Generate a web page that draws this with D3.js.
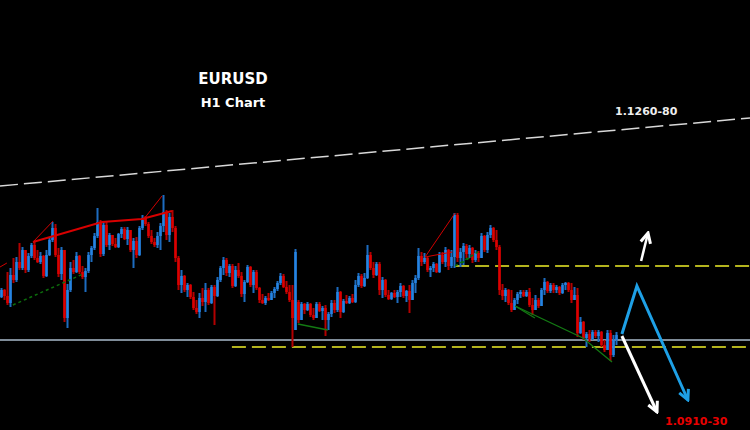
<!DOCTYPE html>
<html>
<head>
<meta charset="utf-8">
<script src="https://cdnjs.cloudflare.com/ajax/libs/d3/7.8.5/d3.min.js"></script>
<style>
  body { margin: 0; background: #000; }
</style>
</head>
<body>
<div id="chart"></div>
<script>
"use strict";

// EURUSD H1 bars, oldest first
const opens = [
  1.1013,1.1020,1.1014,1.1007,1.1035,1.1030,1.1048,1.1042,1.1060,1.1040,
  1.1054,1.1065,1.1052,1.1048,1.1054,1.1034,1.1055,1.1070,1.1082,1.1055,
  1.1036,1.1060,1.0992,1.1020,1.1042,1.1038,1.1054,1.1038,1.1033,1.1039,
  1.1055,1.1062,1.1074,1.1088,1.1056,1.1085,1.1065,1.1075,1.1066,1.1063,
  1.1076,1.1081,1.1071,1.1080,1.1060,1.1069,1.1055,1.1082,1.1092,1.1086,
  1.1074,1.1068,1.1065,1.1074,1.1084,1.1098,1.1075,1.1093,1.1082,1.1052,
  1.1025,1.1034,1.1020,1.1025,1.1013,1.1002,1.0998,1.1012,1.1008,1.1020,
  1.1007,1.1023,1.1014,1.1030,1.1042,1.1050,1.1037,1.1044,1.1024,1.1040,
  1.1034,1.1016,1.1028,1.1043,1.1025,1.1038,1.1022,1.1010,1.1007,1.1012,
  1.1010,1.1017,1.1021,1.1027,1.1034,1.1023,1.1018,1.1010,1.0980,1.1008,
  1.0990,1.1006,1.1000,1.1006,1.0995,1.0992,1.1006,1.0999,1.1002,1.0990,
  1.0996,1.1007,1.1000,1.1018,1.0998,1.1009,1.1007,1.1012,1.1008,1.1025,
  1.1034,1.1024,1.1032,1.1055,1.1042,1.1035,1.1046,1.1020,1.1030,1.1015,
  1.1011,1.1017,1.1013,1.1018,1.1024,1.1014,1.1019,1.1010,1.1027,1.1032,
  1.1054,1.1048,1.1052,1.1040,1.1042,1.1046,1.1038,1.1055,1.1048,1.1060,
  1.1044,1.1053,1.1095,1.1052,1.1058,1.1064,1.1056,1.1062,1.1050,1.1057,
  1.1052,1.1074,1.1060,1.1075,1.1082,1.1070,1.1063,1.1020,1.1014,1.1020,
  1.1007,1.1000,1.1010,1.1016,1.1018,1.1014,1.1018,1.1005,1.1000,1.1010,
  1.1004,1.1020,1.1028,1.1019,1.1025,1.1020,1.1023,1.1017,1.1025,1.1027,
  1.1020,1.1010,1.1015,1.0977,1.0988,1.0972,1.0976,1.0971,1.0978,1.0974,
  1.0978,1.0965,1.0960,1.0977,1.0955,1.0970
];
const closes = [
  1.1020,1.1014,1.1007,1.1035,1.1030,1.1048,1.1042,1.1060,1.1040,1.1054,
  1.1065,1.1052,1.1048,1.1054,1.1034,1.1055,1.1070,1.1082,1.1055,1.1036,
  1.1060,1.0992,1.1020,1.1042,1.1038,1.1054,1.1038,1.1033,1.1039,1.1055,
  1.1062,1.1074,1.1088,1.1056,1.1085,1.1065,1.1075,1.1066,1.1063,1.1076,
  1.1081,1.1071,1.1080,1.1060,1.1069,1.1055,1.1082,1.1092,1.1086,1.1074,
  1.1068,1.1065,1.1074,1.1084,1.1098,1.1075,1.1093,1.1082,1.1052,1.1025,
  1.1034,1.1020,1.1025,1.1013,1.1002,1.0998,1.1012,1.1008,1.1020,1.1007,
  1.1023,1.1014,1.1030,1.1042,1.1050,1.1037,1.1044,1.1024,1.1040,1.1034,
  1.1016,1.1028,1.1043,1.1025,1.1038,1.1022,1.1010,1.1007,1.1012,1.1010,
  1.1017,1.1021,1.1027,1.1034,1.1023,1.1018,1.1010,1.0992,1.1058,1.0990,
  1.1006,1.1000,1.1006,1.0995,1.0992,1.1006,1.0999,1.1002,1.0990,1.0996,
  1.1007,1.1000,1.1018,1.0998,1.1009,1.1007,1.1012,1.1008,1.1025,1.1034,
  1.1024,1.1032,1.1055,1.1042,1.1035,1.1046,1.1020,1.1030,1.1015,1.1011,
  1.1017,1.1013,1.1018,1.1024,1.1014,1.1019,1.1010,1.1027,1.1032,1.1054,
  1.1048,1.1052,1.1040,1.1042,1.1046,1.1038,1.1055,1.1048,1.1060,1.1044,
  1.1053,1.1095,1.1052,1.1058,1.1064,1.1056,1.1062,1.1050,1.1057,1.1052,
  1.1074,1.1060,1.1075,1.1082,1.1070,1.1063,1.1020,1.1014,1.1020,1.1007,
  1.1000,1.1010,1.1016,1.1018,1.1014,1.1018,1.1005,1.1000,1.1010,1.1004,
  1.1020,1.1028,1.1019,1.1025,1.1020,1.1023,1.1017,1.1025,1.1027,1.1020,
  1.1010,1.1015,1.0977,1.0988,1.0972,1.0976,1.0971,1.0978,1.0974,1.0978,
  1.0965,1.0960,1.0977,1.0955,1.0970,1.0975
];
const highs = [
  1.1022,1.1021,1.1038,1.1042,1.1052,1.1053,1.1067,1.1063,1.1060,1.1057,
  1.1067,1.1068,1.1060,1.1058,1.1055,1.1060,1.1073,1.1088,1.1086,1.1062,
  1.1063,1.1060,1.1026,1.1048,1.1050,1.1058,1.1055,1.1044,1.1042,1.1058,
  1.1064,1.1077,1.1102,1.1090,1.1088,1.1088,1.1077,1.1075,1.1072,1.1077,
  1.1083,1.1083,1.1083,1.1080,1.1072,1.1073,1.1084,1.1095,1.1094,1.1088,
  1.1080,1.1072,1.1078,1.1087,1.1115,1.1100,1.1097,1.1100,1.1084,1.1054,
  1.1040,1.1035,1.1027,1.1026,1.1018,1.1010,1.1017,1.1022,1.1027,1.1022,
  1.1025,1.1025,1.1033,1.1044,1.1053,1.1052,1.1046,1.1046,1.1044,1.1047,
  1.1038,1.1030,1.1045,1.1044,1.1040,1.1040,1.1023,1.1016,1.1014,1.1017,
  1.1019,1.1023,1.1029,1.1037,1.1036,1.1029,1.1025,1.1025,1.1061,1.1010,
  1.1008,1.1007,1.1008,1.1007,1.1002,1.1008,1.1008,1.1004,1.1005,1.0998,
  1.1010,1.1010,1.1023,1.1019,1.1011,1.1015,1.1014,1.1016,1.1030,1.1037,
  1.1036,1.1037,1.1065,1.1058,1.1048,1.1048,1.1048,1.1033,1.1031,1.1020,
  1.1018,1.1020,1.1020,1.1027,1.1025,1.1020,1.1025,1.1030,1.1035,1.1062,
  1.1058,1.1057,1.1053,1.1044,1.1048,1.1047,1.1058,1.1058,1.1063,1.1061,
  1.1060,1.1097,1.1097,1.1062,1.1067,1.1066,1.1065,1.1063,1.1060,1.1059,
  1.1077,1.1075,1.1078,1.1085,1.1083,1.1080,1.1065,1.1026,1.1022,1.1021,
  1.1020,1.1012,1.1018,1.1020,1.1020,1.1020,1.1022,1.1012,1.1015,1.1012,
  1.1022,1.1032,1.1029,1.1027,1.1027,1.1025,1.1024,1.1027,1.1028,1.1028,
  1.1027,1.1023,1.1022,1.0993,1.0989,1.0978,1.0980,1.0980,1.0980,1.0980,
  1.0979,1.0970,1.0980,1.0980,1.0975,1.0978
];
const lows = [
  1.1012,1.1010,1.1005,1.1003,1.1027,1.1028,1.1040,1.1040,1.1037,1.1038,
  1.1052,1.1050,1.1047,1.1046,1.1032,1.1033,1.1054,1.1068,1.1053,1.1033,
  1.1030,1.0988,1.0982,1.1018,1.1036,1.1037,1.1036,1.1031,1.1018,1.1037,
  1.1048,1.1060,1.1072,1.1053,1.1054,1.1063,1.1060,1.1064,1.1062,1.1062,
  1.1072,1.1070,1.1065,1.1058,1.1042,1.1052,1.1054,1.1080,1.1084,1.1072,
  1.1066,1.1063,1.1062,1.1060,1.1078,1.1070,1.1068,1.1078,1.1048,1.1020,
  1.1017,1.1018,1.1013,1.1011,1.1000,1.0996,1.0992,1.1004,1.0998,1.1005,
  1.1006,1.0985,1.1013,1.1028,1.1035,1.1034,1.1033,1.1022,1.1023,1.1032,
  1.1013,1.1008,1.1027,1.1023,1.1017,1.1020,1.1007,1.1006,1.1005,1.1009,
  1.1010,1.1012,1.1019,1.1025,1.1022,1.1016,1.1008,1.0963,1.0980,1.0987,
  1.0990,1.0996,1.0999,1.0993,1.0990,1.0992,1.0998,1.0990,1.0974,1.0980,
  1.0993,1.0997,1.0998,1.0992,1.0997,1.1006,1.1006,1.1007,1.1007,1.1023,
  1.1022,1.1023,1.1031,1.1040,1.1032,1.1034,1.1015,1.1012,1.1013,1.1010,
  1.1010,1.1012,1.1007,1.1013,1.1012,1.1008,1.0997,1.1010,1.1017,1.1030,
  1.1044,1.1046,1.1038,1.1033,1.1038,1.1037,1.1037,1.1046,1.1043,1.1040,
  1.1042,1.1042,1.1048,1.1043,1.1045,1.1052,1.1052,1.1047,1.1048,1.1048,
  1.1052,1.1058,1.1057,1.1072,1.1068,1.1060,1.1015,1.1010,1.1008,1.1005,
  1.0998,1.1000,1.1006,1.1012,1.1013,1.1013,1.1003,1.0995,1.1000,1.1002,
  1.1004,1.1015,1.1017,1.1017,1.1017,1.1017,1.1015,1.1016,1.1020,1.1018,
  1.1007,1.1010,1.0973,1.0976,1.0970,1.0963,1.0968,1.0970,1.0972,1.0968,
  1.0963,1.0958,1.0960,1.0949,1.0953,1.0965
];

// drawn studies, as [bar index, price]
const trendLine = [[0, 1.1124], [250, 1.1192]];
const supportLevel = 1.0970;
const dashedLevels = [[151.7, 1.1044], [77.3, 1.0963]];
const redThick = [[11, 1.1068], [34, 1.1088], [47.3, 1.1091], [57.3, 1.1099]];
const redThin = [
  [[0, 1.1043], [2.3, 1.1047]],
  [[11, 1.1068], [17.7, 1.1089]],
  [[47.7, 1.1090], [54, 1.1114]],
  [[141.7, 1.1053], [151.7, 1.1097]],
  [[141.7, 1.1053], [150.7, 1.1058]]
];
const greenDotted = [
  [[4.3, 1.1005], [27.7, 1.1036]],
  [[151.7, 1.1044], [159.3, 1.1058]],
  [[154, 1.1047], [157.3, 1.1054]]
];
const greenSolid = [
  [[99.3, 1.0986], [109.3, 1.0980]],
  [[171.7, 1.1004], [194.3, 1.0972], [204, 1.0948]],
  [[171.7, 1.1004], [178.3, 1.0992]]
];
const upArrow = [[213.7, 1.1049], [216, 1.1077]];
const downArrow = [[207.3, 1.0974], [219, 1.0898]];
const blueArrow = [[207.3, 1.0976], [212.3, 1.1024], [229.3, 1.0910]];

const title = "EURUSD";
const subtitle = "H1 Chart";
const upperTarget = "1.1260-80";
const lowerTarget = "1.0910-30";

const plot = { width: 750, height: 430 };

window.onload = function () {
  let svg = d3.select("#chart")
    .append("svg")
    .attr("width", plot.width)
    .attr("height", plot.height)
    .style("display", "block");

  svg.append("rect")
    .attr("width", plot.width)
    .attr("height", plot.height)
    .attr("fill", "#000");

  let x = d3.scaleLinear().domain([0, 250]).range([0, plot.width]);
  let y = d3.scaleLinear().domain([1.0880, 1.1310]).range([plot.height, 0]);
  let line = d3.line().x(d => x(d[0])).y(d => y(d[1]));

  makeMarkers(svg);

  // levels
  svg.append("line")
    .attr("x1", 0).attr("x2", plot.width)
    .attr("y1", y(supportLevel)).attr("y2", y(supportLevel))
    .attr("stroke", "#7f8c99").attr("stroke-width", 2);

  svg.selectAll(".lvl")
    .data(dashedLevels)
    .enter()
    .append("line")
    .attr("x1", d => x(d[0])).attr("x2", plot.width)
    .attr("y1", d => y(d[1])).attr("y2", d => y(d[1]))
    .attr("stroke", "#b4b41e").attr("stroke-width", 2)
    .attr("stroke-dasharray", "14,6");

  svg.append("path")
    .attr("d", line(trendLine))
    .attr("fill", "none")
    .attr("stroke", "#d8d8d8").attr("stroke-width", 1.5)
    .attr("stroke-dasharray", "18,6");

  drawCandles(svg, x, y);

  // zigzag studies
  svg.append("path")
    .attr("d", line(redThick))
    .attr("fill", "none").attr("stroke", "#d80000").attr("stroke-width", 2);
  svg.selectAll(".red-thin")
    .data(redThin).enter().append("path")
    .attr("d", line).attr("fill", "none")
    .attr("stroke", "#d00000").attr("stroke-width", 1);
  svg.selectAll(".green-dot")
    .data(greenDotted).enter().append("path")
    .attr("d", line).attr("fill", "none")
    .attr("stroke", "#0c6e0c").attr("stroke-width", 1.5)
    .attr("stroke-dasharray", "3,3");
  svg.selectAll(".green-solid")
    .data(greenSolid).enter().append("path")
    .attr("d", line).attr("fill", "none")
    .attr("stroke", "#137a13").attr("stroke-width", 1.3);

  // projections
  svg.append("path")
    .attr("d", line(blueArrow)).attr("fill", "none")
    .attr("stroke", "#1ea0e6").attr("stroke-width", 3)
    .attr("stroke-linejoin", "miter")
    .attr("marker-end", "url(#head-blue)");
  svg.append("path")
    .attr("d", line(downArrow)).attr("fill", "none")
    .attr("stroke", "#fff").attr("stroke-width", 3)
    .attr("marker-end", "url(#head-white)");
  svg.append("path")
    .attr("d", line(upArrow)).attr("fill", "none")
    .attr("stroke", "#fff").attr("stroke-width", 2.5)
    .attr("marker-end", "url(#head-white)");

  makeLabels(svg);
};

function makeMarkers(svg) {
  let defs = svg.append("defs");
  [["head-white", "#fff"], ["head-blue", "#1ea0e6"]].forEach(function (m) {
    defs.append("marker")
      .attr("id", m[0])
      .attr("markerUnits", "userSpaceOnUse")
      .attr("viewBox", "0 0 14 14")
      .attr("markerWidth", 14).attr("markerHeight", 14)
      .attr("refX", 12).attr("refY", 7)
      .attr("orient", "auto")
      .append("path")
      .attr("d", "M2,2 L12,7 L2,12")
      .attr("fill", "none")
      .attr("stroke", m[1])
      .attr("stroke-width", 3);
  });
}

function drawCandles(svg, x, y) {
  let bars = d3.range(opens.length).map(function (i) {
    return { i: i, o: opens[i], h: highs[i], l: lows[i], c: closes[i] };
  });
  let up = d => d.c >= d.o;

  svg.selectAll(".wick")
    .data(bars).enter().append("line")
    .attr("x1", d => x(d.i + 0.5)).attr("x2", d => x(d.i + 0.5))
    .attr("y1", d => y(d.h)).attr("y2", d => y(d.l))
    .attr("stroke", d => up(d) ? "#1d6cc0" : "#b30000")
    .attr("stroke-width", 2);

  svg.selectAll(".body")
    .data(bars).enter().append("rect")
    .attr("x", d => x(d.i + 0.5) - 1.25)
    .attr("width", 2.5)
    .attr("y", d => y(Math.max(d.o, d.c)))
    .attr("height", d => Math.max(1, Math.abs(y(d.o) - y(d.c))))
    .attr("fill", d => up(d) ? "#2684e2" : "#dc0000");
}

function makeLabels(svg) {
  svg.append("text")
    .attr("x", 233).attr("y", 84)
    .attr("text-anchor", "middle")
    .attr("font-family", "DejaVu Sans")
    .attr("font-weight", "bold")
    .style("font-size", "15px")
    .attr("fill", "#fff")
    .text(title);

  svg.append("text")
    .attr("x", 233).attr("y", 107)
    .attr("text-anchor", "middle")
    .attr("font-family", "DejaVu Sans")
    .attr("font-weight", "bold")
    .style("font-size", "13px")
    .attr("fill", "#fff")
    .text(subtitle);

  svg.append("text")
    .attr("x", 615).attr("y", 115)
    .attr("font-family", "DejaVu Sans")
    .attr("font-weight", "bold")
    .style("font-size", "11px")
    .attr("fill", "#eee")
    .text(upperTarget);

  svg.append("text")
    .attr("x", 665).attr("y", 425)
    .attr("font-family", "DejaVu Sans")
    .attr("font-weight", "bold")
    .style("font-size", "11px")
    .attr("fill", "#e80000")
    .text(lowerTarget);
}
</script>
</body>
</html>
